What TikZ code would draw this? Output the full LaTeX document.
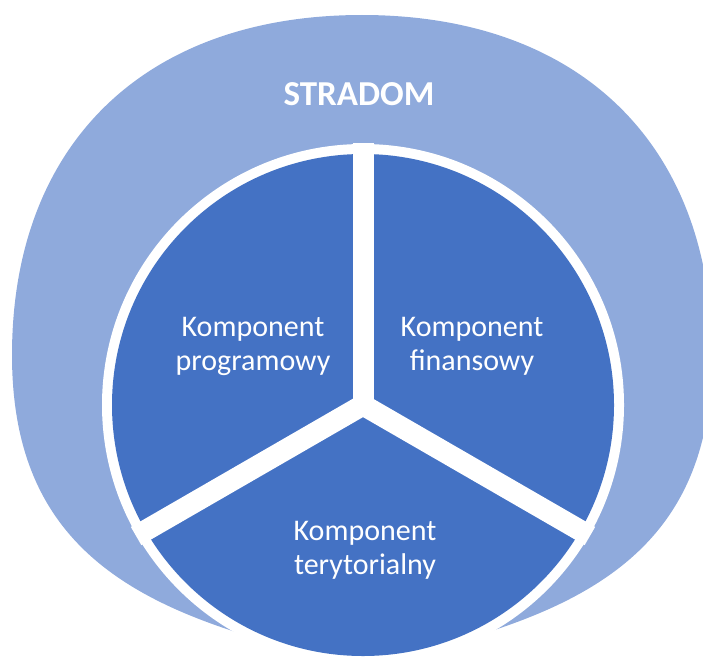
\documentclass[tikz,border=0pt]{standalone}
\usepackage{fontspec}
\setmainfont{Carlito}
\definecolor{outerblue}{HTML}{8FAADC}
\definecolor{innerblue}{HTML}{4472C4}
\begin{document}
\begin{tikzpicture}[x=1pt,y=-1pt,
  lbl/.style={text=white,font=\fontsize{30}{34}\selectfont,align=center},
  gap/.style={draw=white,line width=21pt}]
\useasboundingbox (0,0) rectangle (703,669);
\fill[outerblue] (362,15) .. controls (145,15) and (12,144) .. (12,355)
  .. controls (12,560) and (150,620) .. (362,664)
  .. controls (574,620) and (712,560) .. (712,355)
  .. controls (712,144) and (579,15) .. (362,15) -- cycle;
\coordinate (c) at (363,405);
\fill[white] (c) circle [radius=261];
\fill[innerblue] (c) circle [radius=251];
\draw[gap] (c) -- ++(0,-262);
\draw[gap] (c) -- ++(150:262);
\draw[gap] (c) -- ++(30:262);
\fill[white] (c) circle [radius=10.5];
\node[text=white,font=\bfseries\fontsize{35}{40}\selectfont] (title) at (359,94) {STRADOM};
\node[lbl] (prog) at (253,346) {Komponent\\programowy};
\node[lbl] (fin) at (472,346) {Komponent\\finansowy};
\node[lbl] (ter) at (365,550) {Komponent\\terytorialny};
\end{tikzpicture}
\end{document}
